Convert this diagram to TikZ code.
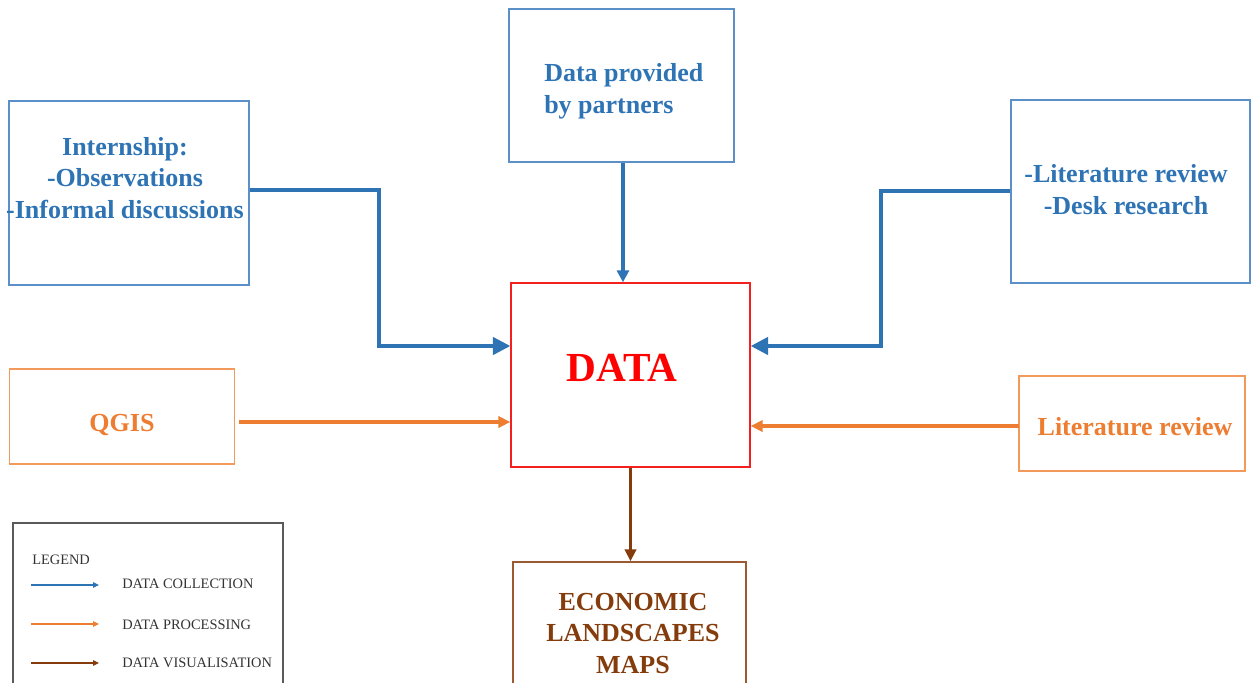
\documentclass[tikz,border=0pt]{standalone}
\usepackage{fontspec}
\setmainfont{Liberation Serif}
\usetikzlibrary{arrows.meta,calc}

\definecolor{blueTxt}{HTML}{2E74B5}
\definecolor{blueLine}{HTML}{5A8FC8}
\definecolor{orangeTxt}{HTML}{ED7D31}
\definecolor{orangeLine}{HTML}{F29A5C}
\definecolor{redTxt}{HTML}{FF0000}
\definecolor{redLine}{HTML}{F42020}
\definecolor{brownTxt}{HTML}{843C0C}
\definecolor{brownLine}{HTML}{9C5A33}
\definecolor{legendLine}{HTML}{5A5A5A}
\definecolor{legendTxt}{HTML}{333333}

\tikzset{
  boxshape/.style={draw, rectangle, line width=1.1pt, inner sep=0pt},
  bluebox/.style={boxshape, draw=blueLine},
  orangebox/.style={boxshape, draw=orangeLine},
  redbox/.style={boxshape, draw=redLine},
  brownbox/.style={boxshape, draw=brownLine},
  legendbox/.style={boxshape, draw=legendLine, line width=0.9pt},
  bigtext/.style={font=\fontsize{19.5}{23.6}\selectfont\bfseries, inner sep=0pt, anchor=base},
  legendtext/.style={font=\fontsize{10.8}{13}\selectfont, text=legendTxt, inner sep=0pt, anchor=base west},
  bluebig/.style={draw=blueTxt, line width=2.5pt, -{Triangle[length=13pt,width=13pt]}},
  bluesmall/.style={draw=blueTxt, line width=2.4pt, -{Triangle[length=9pt,width=9pt]}},
  orangearrow/.style={draw=orangeTxt, line width=2.4pt, -{Triangle[length=9pt,width=8.5pt]}},
  brownarrow/.style={draw=brownTxt, line width=2.4pt, -{Triangle[length=9pt,width=8.5pt]}},
  legblue/.style={draw=blueTxt, line width=1.1pt, -{Triangle[length=4.5pt,width=4pt]}},
  legorange/.style={draw=orangeTxt, line width=1.1pt, -{Triangle[length=4.5pt,width=4pt]}},
  legbrown/.style={draw=brownTxt, line width=1.1pt, -{Triangle[length=4.5pt,width=4pt]}},
}

\begin{document}
\begin{tikzpicture}[x=0.75pt,y=-0.75pt]
\clip (0,0) rectangle (1252,682);
\fill[white] (0,0) rectangle (1252,682);

% boxes
\node[bluebox, minimum width=240*0.75pt, minimum height=184*0.75pt] (intern) at (129,193) {};
\node[bluebox, minimum width=225*0.75pt, minimum height=153*0.75pt] (partners) at (621.5,85.5) {};
\node[bluebox, minimum width=239*0.75pt, minimum height=183*0.75pt] (litdesk) at (1130.5,191.5) {};
\node[redbox, minimum width=239*0.75pt, minimum height=184*0.75pt] (data) at (630.5,375) {};
\node[orangebox, minimum width=225*0.75pt, minimum height=95*0.75pt] (qgis) at (122,416.5) {};
\node[orangebox, minimum width=226*0.75pt, minimum height=95*0.75pt] (litrev) at (1132,423.5) {};
\node[brownbox, minimum width=233*0.75pt, minimum height=240*0.75pt] (econ) at (629.5,682) {};
\node[legendbox, minimum width=270*0.75pt, minimum height=240*0.75pt] (legend) at (148,643) {};

% box texts (multi-line nodes sit on the baseline of their last line)
\node[bigtext, text=blueTxt, align=center] (interntxt) at (125,218)
  {Internship:\\-Observations\\-Informal discussions};
\node[bigtext, text=blueTxt, align=left, anchor=base west] (partnerstxt) at (544,113)
  {Data provided\\by partners};
\node[bigtext, text=blueTxt, align=center] (litdesktxt) at (1126,214)
  {-Literature review\\-Desk research};
\node[font=\fontsize{31}{36}\selectfont\bfseries, text=redTxt, inner sep=0pt, anchor=base] (datatxt) at (622,381) {DATA};
\node[bigtext, text=orangeTxt] (qgistxt) at (122,431) {QGIS};
\node[bigtext, text=orangeTxt] (litrevtxt) at (1135,435) {Literature review};
\node[bigtext, text=brownTxt, align=center] (econtxt) at (633,673)
  {ECONOMIC\\LANDSCAPES\\MAPS};

% data collection connectors
\coordinate (bendL) at (379,346);
\coordinate (bendR) at (881,346);
\draw[bluebig, line join=miter] ([yshift=2.25pt]intern.east) -| (bendL) -- (bendL -| data.west);
\draw[bluebig, line join=miter] ([yshift=0.4pt]litdesk.west) -| (bendR) -- (bendR -| data.east);
\draw[bluesmall] ([xshift=1.1pt]partners.south) -- ([xshift=1.1pt]partners.south |- data.north);

% data processing connectors
\coordinate (qgisout) at (239,422);
\coordinate (litrevout) at (1019,426);
\draw[orangearrow] (qgisout) -- (qgisout -| data.west);
\draw[orangearrow] (litrevout) -- (litrevout -| data.east);

% data visualisation connector
\draw[brownarrow] (data.south) -- (data.south |- econ.north);

% legend
\node[legendtext, anchor=base west] (legtitle) at (32,564) {LEGEND};
\node[legendtext] (legcol) at (122,588) {DATA COLLECTION};
\node[legendtext] (legproc) at (122,629) {DATA PROCESSING};
\node[legendtext] (legvis) at (122,667) {DATA VISUALISATION};
\coordinate (lc1) at (31,585); \coordinate (lc2) at (99,585);
\coordinate (lp1) at (31,624); \coordinate (lp2) at (99,624);
\coordinate (lv1) at (31,663); \coordinate (lv2) at (99,663);
\draw[legblue] (lc1) -- (lc2);
\draw[legorange] (lp1) -- (lp2);
\draw[legbrown] (lv1) -- (lv2);
\end{tikzpicture}
\end{document}
